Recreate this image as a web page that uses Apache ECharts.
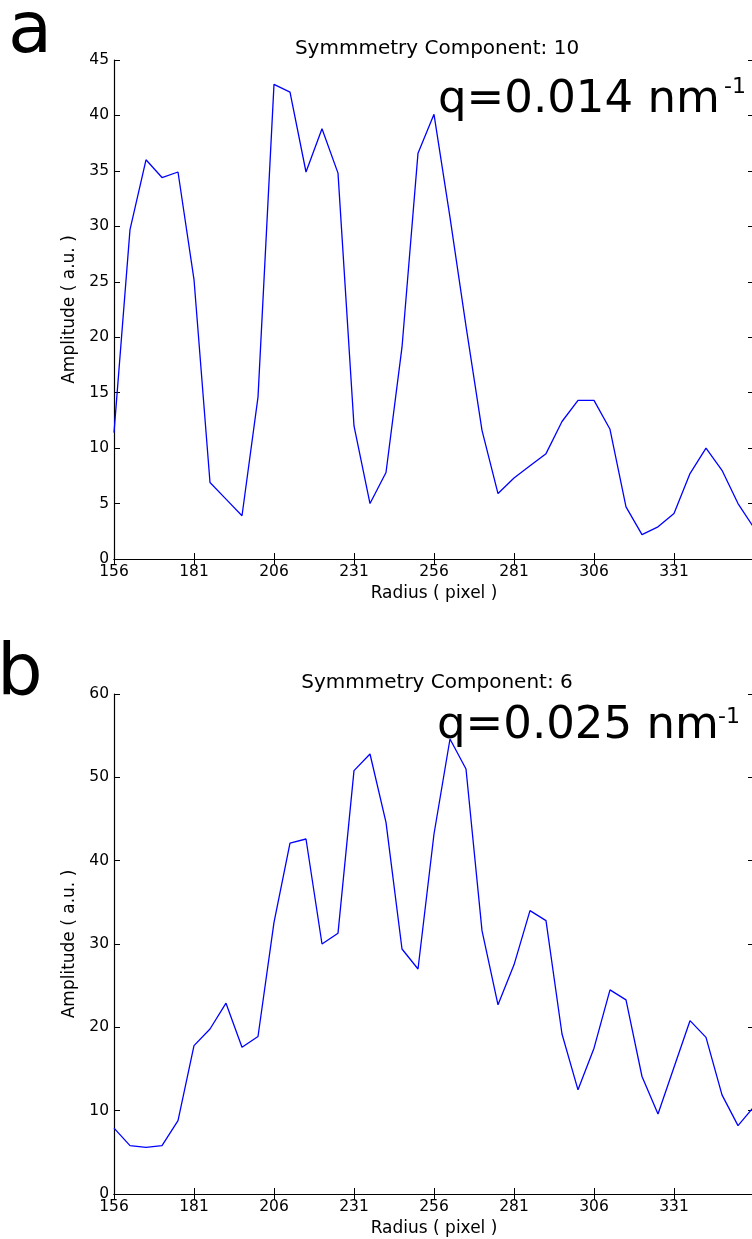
<!DOCTYPE html>
<html>
<head>
<meta charset="utf-8">
<script src="https://cdn.jsdelivr.net/npm/echarts@6/dist/echarts.min.js"></script>
<style>
  html, body { margin: 0; padding: 0; background: #fff; }
  #chart { width: 752px; height: 1239px; }
</style>
</head>
<body>
<div id="chart"></div>
<script>
// Radius samples (pixel), shared by both panels
const radius = [156, 161, 166, 171, 176, 181, 186, 191, 196, 201,
  206, 211, 216, 221, 226, 231, 236, 241, 246, 251,
  256, 261, 266, 271, 276, 281, 286, 291, 296, 301,
  306, 311, 316, 321, 326, 331, 336, 341, 346, 351, 356];

// Panel a: symmetry component 10
const ampA = [11.4, 29.7, 36.0, 34.4, 34.9, 25.2, 6.9, 5.4, 3.9, 14.6,
  42.8, 42.1, 34.9, 38.8, 34.8, 12.0, 5.0, 7.8, 19.1, 36.6,
  40.1, 30.8, 21.0, 11.6, 5.9, 7.3, 8.4, 9.5, 12.4, 14.3,
  14.3, 11.7, 4.7, 2.2, 2.9, 4.1, 7.7, 10.0, 8.0, 5.0, 2.8];

// Panel b: symmetry component 6
const ampB = [7.9, 5.8, 5.6, 5.8, 8.8, 17.8, 19.8, 22.9, 17.6, 18.9,
  32.6, 42.1, 42.6, 30.0, 31.3, 50.8, 52.8, 44.6, 29.4, 27.0,
  43.2, 54.6, 51.0, 31.6, 22.7, 27.5, 34.0, 32.8, 19.2, 12.5,
  17.5, 24.5, 23.3, 14.1, 9.6, 15.2, 20.8, 18.8, 11.9, 8.2, 10.5];

const xTicks = [156, 181, 206, 231, 256, 281, 306, 331];

const FONT = "DejaVu Sans";
const black = "#000";

let pairs = (ys) => radius.map((r, i) => [r, ys[i]]);

let bottomAxis = (grid) => ({
  type: "value", gridIndex: grid, position: "bottom",
  min: 156, max: 356,
  name: "Radius ( pixel )", nameLocation: "middle", nameGap: 26,
  nameTextStyle: { fontFamily: FONT, fontSize: 17, color: black },
  axisLine: { lineStyle: { color: black, width: 1.2 } },
  axisTick: { inside: true, length: 6, customValues: xTicks, lineStyle: { color: black } },
  axisLabel: { customValues: xTicks, margin: 5, fontFamily: FONT, fontSize: 15.5, color: black },
  splitLine: { show: false }
});

let topAxis = (grid) => ({
  type: "value", gridIndex: grid, position: "top",
  min: 156, max: 356,
  axisLine: { lineStyle: { color: black, width: 1.2 } },
  axisTick: { inside: true, length: 6, customValues: xTicks, lineStyle: { color: black } },
  axisLabel: { show: false },
  splitLine: { show: false }
});

let leftAxis = (grid, max, step) => ({
  type: "value", gridIndex: grid, position: "left",
  min: 0, max: max, interval: step,
  name: "Amplitude ( a.u. )", nameLocation: "middle", nameGap: 29,
  nameTextStyle: { fontFamily: FONT, fontSize: 17, color: black },
  axisLine: { show: true, lineStyle: { color: black, width: 1.2 } },
  axisTick: { show: true, inside: true, length: 6, lineStyle: { color: black } },
  axisLabel: { margin: 5, fontFamily: FONT, fontSize: 15.5, color: black },
  splitLine: { show: false }
});

let rightAxis = (grid, max, step) => ({
  type: "value", gridIndex: grid, position: "right",
  min: 0, max: max, interval: step,
  axisLine: { show: true, lineStyle: { color: black, width: 1.2 } },
  axisTick: { show: true, inside: true, length: 6, lineStyle: { color: black } },
  axisLabel: { show: false },
  splitLine: { show: false }
});

let label = (text, x, y, size, align) => ({
  type: "text", x: x, y: y, silent: true,
  style: { text: text, fontFamily: FONT, fontSize: size, fill: black,
           align: align || "left", verticalAlign: "middle" }
});

const chart = echarts.init(document.getElementById("chart"), null, { renderer: "canvas" });

chart.setOption({
  animation: false,
  backgroundColor: "#fff",
  // the right spine sits just past the canvas edge, so let the grid overflow
  grid: [
    { left: 114, top: 60, width: 640, height: 499, outerBoundsMode: "none" },
    { left: 114, top: 694, width: 640, height: 500, outerBoundsMode: "none" }
  ],
  xAxis: [bottomAxis(0), topAxis(0), bottomAxis(1), topAxis(1)],
  yAxis: [leftAxis(0, 45, 5), rightAxis(0, 45, 5), leftAxis(1, 60, 10), rightAxis(1, 60, 10)],
  series: [
    { type: "line", xAxisIndex: 0, yAxisIndex: 0, data: pairs(ampA), showSymbol: false,
      lineStyle: { color: "#0000ff", width: 1.3 } },
    { type: "line", xAxisIndex: 2, yAxisIndex: 2, data: pairs(ampB), showSymbol: false,
      lineStyle: { color: "#0000ff", width: 1.3 } }
  ],
  graphic: [
    label("a", 8, 33, 72),
    label("b", -3, 675, 72),
    label("Symmmetry Component: 10", 437, 49, 20, "center"),
    label("Symmmetry Component: 6", 437, 683, 20, "center"),
    label("q=0.014 nm", 438, 100, 45),
    label("-1", 724, 87, 22),
    label("q=0.025 nm", 437, 726, 45),
    label("-1", 718, 717, 22)
  ]
});
</script>
</body>
</html>
